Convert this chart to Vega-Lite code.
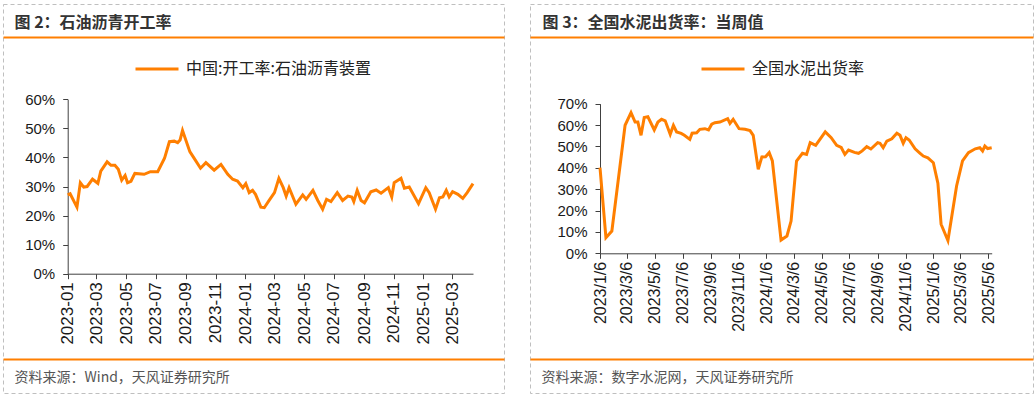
{
  "$schema": "https://vega.github.io/schema/vega-lite/v6.json",
  "padding": {"left": 2, "top": 3, "right": 4, "bottom": 2},
  "background": "white",
  "datasets": {
    "a": [
      {"date": "2023-01-01", "v": 0.271}, {"date": "2023-01-06", "v": 0.275}, {"date": "2023-01-20", "v": 0.229}, {"date": "2023-01-27", "v": 0.313},
      {"date": "2023-02-03", "v": 0.298}, {"date": "2023-02-10", "v": 0.300}, {"date": "2023-02-21", "v": 0.325}, {"date": "2023-03-04", "v": 0.311},
      {"date": "2023-03-10", "v": 0.353}, {"date": "2023-03-23", "v": 0.385}, {"date": "2023-03-31", "v": 0.373}, {"date": "2023-04-08", "v": 0.373},
      {"date": "2023-04-15", "v": 0.359}, {"date": "2023-04-22", "v": 0.322}, {"date": "2023-04-29", "v": 0.338}, {"date": "2023-05-04", "v": 0.313},
      {"date": "2023-05-11", "v": 0.318}, {"date": "2023-05-19", "v": 0.345}, {"date": "2023-06-07", "v": 0.342}, {"date": "2023-06-20", "v": 0.351},
      {"date": "2023-07-05", "v": 0.351}, {"date": "2023-07-19", "v": 0.397}, {"date": "2023-07-29", "v": 0.454}, {"date": "2023-08-08", "v": 0.456},
      {"date": "2023-08-15", "v": 0.451}, {"date": "2023-08-20", "v": 0.460}, {"date": "2023-08-25", "v": 0.493}, {"date": "2023-09-09", "v": 0.420},
      {"date": "2023-09-18", "v": 0.397}, {"date": "2023-10-01", "v": 0.363}, {"date": "2023-10-12", "v": 0.382}, {"date": "2023-10-29", "v": 0.356},
      {"date": "2023-11-12", "v": 0.376}, {"date": "2023-11-26", "v": 0.342}, {"date": "2023-12-06", "v": 0.325}, {"date": "2023-12-16", "v": 0.319},
      {"date": "2023-12-27", "v": 0.296}, {"date": "2024-01-02", "v": 0.310}, {"date": "2024-01-09", "v": 0.279}, {"date": "2024-01-16", "v": 0.287},
      {"date": "2024-01-22", "v": 0.273}, {"date": "2024-02-02", "v": 0.229}, {"date": "2024-02-09", "v": 0.227}, {"date": "2024-02-19", "v": 0.252},
      {"date": "2024-03-01", "v": 0.279}, {"date": "2024-03-10", "v": 0.328}, {"date": "2024-03-19", "v": 0.296}, {"date": "2024-03-25", "v": 0.267},
      {"date": "2024-03-31", "v": 0.296}, {"date": "2024-04-14", "v": 0.239}, {"date": "2024-04-28", "v": 0.271}, {"date": "2024-05-05", "v": 0.256},
      {"date": "2024-05-19", "v": 0.287}, {"date": "2024-05-29", "v": 0.252}, {"date": "2024-06-08", "v": 0.222}, {"date": "2024-06-16", "v": 0.256},
      {"date": "2024-06-25", "v": 0.248}, {"date": "2024-07-08", "v": 0.279}, {"date": "2024-07-19", "v": 0.252}, {"date": "2024-07-30", "v": 0.267},
      {"date": "2024-08-07", "v": 0.264}, {"date": "2024-08-11", "v": 0.248}, {"date": "2024-08-18", "v": 0.287}, {"date": "2024-08-26", "v": 0.252},
      {"date": "2024-09-02", "v": 0.244}, {"date": "2024-09-15", "v": 0.282}, {"date": "2024-09-26", "v": 0.288}, {"date": "2024-10-06", "v": 0.277},
      {"date": "2024-10-21", "v": 0.296}, {"date": "2024-10-28", "v": 0.264}, {"date": "2024-11-02", "v": 0.313}, {"date": "2024-11-16", "v": 0.328},
      {"date": "2024-11-23", "v": 0.294}, {"date": "2024-12-03", "v": 0.298}, {"date": "2024-12-22", "v": 0.241}, {"date": "2025-01-06", "v": 0.296},
      {"date": "2025-01-13", "v": 0.279}, {"date": "2025-01-26", "v": 0.222}, {"date": "2025-02-03", "v": 0.261}, {"date": "2025-02-10", "v": 0.264},
      {"date": "2025-02-17", "v": 0.287}, {"date": "2025-02-23", "v": 0.264}, {"date": "2025-03-02", "v": 0.282}, {"date": "2025-03-13", "v": 0.273},
      {"date": "2025-03-23", "v": 0.259}, {"date": "2025-04-01", "v": 0.279}, {"date": "2025-04-13", "v": 0.310}
    ],
    "b": [
      {"date": "2023-01-06", "v": 0.401}, {"date": "2023-01-19", "v": 0.073}, {"date": "2023-02-01", "v": 0.104}, {"date": "2023-03-02", "v": 0.599},
      {"date": "2023-03-15", "v": 0.658}, {"date": "2023-03-24", "v": 0.614}, {"date": "2023-03-30", "v": 0.614}, {"date": "2023-04-06", "v": 0.552},
      {"date": "2023-04-13", "v": 0.635}, {"date": "2023-04-21", "v": 0.639}, {"date": "2023-05-05", "v": 0.577}, {"date": "2023-05-13", "v": 0.614},
      {"date": "2023-05-21", "v": 0.627}, {"date": "2023-05-29", "v": 0.620}, {"date": "2023-06-09", "v": 0.557}, {"date": "2023-06-16", "v": 0.599},
      {"date": "2023-06-23", "v": 0.568}, {"date": "2023-07-03", "v": 0.561}, {"date": "2023-07-10", "v": 0.552}, {"date": "2023-07-22", "v": 0.533},
      {"date": "2023-07-27", "v": 0.562}, {"date": "2023-08-06", "v": 0.564}, {"date": "2023-08-13", "v": 0.580}, {"date": "2023-08-24", "v": 0.583},
      {"date": "2023-09-01", "v": 0.577}, {"date": "2023-09-08", "v": 0.604}, {"date": "2023-09-15", "v": 0.611}, {"date": "2023-09-26", "v": 0.614},
      {"date": "2023-10-13", "v": 0.630}, {"date": "2023-10-18", "v": 0.608}, {"date": "2023-10-25", "v": 0.627}, {"date": "2023-11-07", "v": 0.583},
      {"date": "2023-11-20", "v": 0.580}, {"date": "2023-12-01", "v": 0.574}, {"date": "2023-12-08", "v": 0.552}, {"date": "2023-12-19", "v": 0.393},
      {"date": "2023-12-27", "v": 0.451}, {"date": "2024-01-04", "v": 0.452}, {"date": "2024-01-12", "v": 0.471}, {"date": "2024-01-19", "v": 0.432},
      {"date": "2024-02-07", "v": 0.062}, {"date": "2024-02-20", "v": 0.081}, {"date": "2024-02-29", "v": 0.151}, {"date": "2024-03-12", "v": 0.432},
      {"date": "2024-03-25", "v": 0.468}, {"date": "2024-04-03", "v": 0.463}, {"date": "2024-04-11", "v": 0.518}, {"date": "2024-04-23", "v": 0.505},
      {"date": "2024-05-14", "v": 0.568}, {"date": "2024-05-27", "v": 0.541}, {"date": "2024-06-08", "v": 0.505}, {"date": "2024-06-18", "v": 0.495},
      {"date": "2024-06-26", "v": 0.463}, {"date": "2024-07-04", "v": 0.483}, {"date": "2024-07-17", "v": 0.472}, {"date": "2024-07-26", "v": 0.468},
      {"date": "2024-08-03", "v": 0.479}, {"date": "2024-08-13", "v": 0.499}, {"date": "2024-08-22", "v": 0.488}, {"date": "2024-09-06", "v": 0.518},
      {"date": "2024-09-11", "v": 0.515}, {"date": "2024-09-18", "v": 0.494}, {"date": "2024-09-26", "v": 0.525}, {"date": "2024-10-07", "v": 0.536},
      {"date": "2024-10-18", "v": 0.562}, {"date": "2024-10-25", "v": 0.552}, {"date": "2024-11-01", "v": 0.515}, {"date": "2024-11-07", "v": 0.541},
      {"date": "2024-11-14", "v": 0.530}, {"date": "2024-11-27", "v": 0.489}, {"date": "2024-12-08", "v": 0.468}, {"date": "2024-12-15", "v": 0.455},
      {"date": "2024-12-25", "v": 0.447}, {"date": "2025-01-06", "v": 0.424}, {"date": "2025-01-16", "v": 0.328}, {"date": "2025-01-23", "v": 0.136},
      {"date": "2025-02-07", "v": 0.060}, {"date": "2025-02-26", "v": 0.315}, {"date": "2025-03-11", "v": 0.432}, {"date": "2025-03-24", "v": 0.471},
      {"date": "2025-04-08", "v": 0.489}, {"date": "2025-04-18", "v": 0.494}, {"date": "2025-04-24", "v": 0.479}, {"date": "2025-04-29", "v": 0.502},
      {"date": "2025-05-05", "v": 0.490}, {"date": "2025-05-14", "v": 0.494}
    ]
  },
  "spacing": 24,
  "resolve": {"scale": {"color": "independent"}, "legend": {"color": "independent"}},
  "hconcat": [
    {
      "width": 501,
      "height": 389,
      "resolve": {"scale": {"x": "independent"}, "axis": {"x": "independent"}},
      "layer": [
        {
          "data": {"name": "a"},
          "mark": {"type": "line", "strokeWidth": 3},
          "encoding": {
            "x": {
              "field": "date", "type": "temporal",
              "scale": {"type": "utc", "range": [64.7, 470]},
              "axis": {
                "orient": "bottom", "offset": -119.3, "title": null,
                "values": [
                  {"year": 2023, "month": 1, "date": 1, "utc": true}, {"year": 2023, "month": 3, "date": 1, "utc": true},
                  {"year": 2023, "month": 5, "date": 1, "utc": true}, {"year": 2023, "month": 7, "date": 1, "utc": true},
                  {"year": 2023, "month": 9, "date": 1, "utc": true}, {"year": 2023, "month": 11, "date": 1, "utc": true},
                  {"year": 2024, "month": 1, "date": 1, "utc": true}, {"year": 2024, "month": 3, "date": 1, "utc": true},
                  {"year": 2024, "month": 5, "date": 1, "utc": true}, {"year": 2024, "month": 7, "date": 1, "utc": true},
                  {"year": 2024, "month": 9, "date": 1, "utc": true}, {"year": 2024, "month": 11, "date": 1, "utc": true},
                  {"year": 2025, "month": 1, "date": 1, "utc": true}, {"year": 2025, "month": 3, "date": 1, "utc": true}
                ],
                "labelExpr": "utcFormat(datum.value, '%Y-%m')",
                "labelAngle": -90, "labelPadding": 3, "tickSize": 5, "labelFontSize": 17
              }
            },
            "y": {
              "field": "v", "type": "quantitative",
              "scale": {"domain": [0, 0.6], "range": [269.7, 95.3], "nice": false},
              "axis": {"orient": "left", "offset": -64.7, "title": null, "values": [0, 0.1, 0.2, 0.3, 0.4, 0.5, 0.6], "format": ".0%", "tickSize": 5, "labelPadding": 8}
            },
            "color": {
              "datum": "中国:开工率:石油沥青装置",
              "scale": {"range": ["#FF7F00"]},
              "legend": {"orient": "none", "legendX": 131, "legendY": 42, "direction": "horizontal", "title": null}
            }
          }
        },
        {
          "data": {"name": "a"},
          "mark": {"type": "point", "opacity": 0, "size": 0, "strokeWidth": 0},
          "encoding": {
            "x": {
              "field": "date", "type": "temporal",
              "axis": {
                "orient": "top", "offset": -33, "domainColor": "#FF7F00", "domainWidth": 2, "ticks": false, "labels": false,
                "title": "图 2：石油沥青开工率", "titleX": 11, "titleY": -15, "titleAlign": "left", "titleBaseline": "middle",
                "titleFontSize": 16, "titleFontWeight": "bold", "titleColor": "#333333", "titleFont": "Noto Sans CJK SC"
              }
            }
          }
        },
        {
          "data": {"name": "a"},
          "mark": {"type": "point", "opacity": 0, "size": 0, "strokeWidth": 0},
          "encoding": {
            "x": {
              "field": "date", "type": "temporal",
              "axis": {
                "orient": "bottom", "offset": -34, "domainColor": "#FF7F00", "domainWidth": 2, "ticks": false, "labels": false,
                "title": "资料来源：Wind，天风证券研究所", "titleX": 11, "titleY": 18, "titleAlign": "left", "titleBaseline": "middle",
                "titleFontSize": 14, "titleFontWeight": "normal", "titleColor": "#555555", "titleFont": "Noto Sans CJK SC"
              }
            }
          }
        }
      ]
    },
    {
      "width": 503,
      "height": 389,
      "resolve": {"scale": {"x": "independent"}, "axis": {"x": "independent"}},
      "layer": [
        {
          "data": {"name": "b"},
          "mark": {"type": "line", "strokeWidth": 3},
          "encoding": {
            "x": {
              "field": "date", "type": "temporal",
              "scale": {"type": "utc", "range": [70, 461.7]},
              "axis": {
                "orient": "bottom", "offset": -139.7, "title": null,
                "values": [
                  {"year": 2023, "month": 1, "date": 6, "utc": true}, {"year": 2023, "month": 3, "date": 6, "utc": true},
                  {"year": 2023, "month": 5, "date": 6, "utc": true}, {"year": 2023, "month": 7, "date": 6, "utc": true},
                  {"year": 2023, "month": 9, "date": 6, "utc": true}, {"year": 2023, "month": 11, "date": 6, "utc": true},
                  {"year": 2024, "month": 1, "date": 6, "utc": true}, {"year": 2024, "month": 3, "date": 6, "utc": true},
                  {"year": 2024, "month": 5, "date": 6, "utc": true}, {"year": 2024, "month": 7, "date": 6, "utc": true},
                  {"year": 2024, "month": 9, "date": 6, "utc": true}, {"year": 2024, "month": 11, "date": 6, "utc": true},
                  {"year": 2025, "month": 1, "date": 6, "utc": true}, {"year": 2025, "month": 3, "date": 6, "utc": true},
                  {"year": 2025, "month": 5, "date": 6, "utc": true}
                ],
                "labelExpr": "utcFormat(datum.value, '%Y/%-m/%-d')",
                "labelAngle": -90, "labelPadding": 3, "tickSize": 5, "labelFontSize": 16
              }
            },
            "y": {
              "field": "v", "type": "quantitative",
              "scale": {"domain": [0, 0.7], "range": [249.3, 99.7], "nice": false},
              "axis": {"orient": "left", "offset": -70, "title": null, "values": [0, 0.1, 0.2, 0.3, 0.4, 0.5, 0.6, 0.7], "format": ".0%", "tickSize": 5, "labelPadding": 8}
            },
            "color": {
              "datum": "全国水泥出货率",
              "scale": {"range": ["#FF7F00"]},
              "legend": {"orient": "none", "legendX": 170, "legendY": 42, "direction": "horizontal", "title": null}
            }
          }
        },
        {
          "data": {"name": "b"},
          "mark": {"type": "point", "opacity": 0, "size": 0, "strokeWidth": 0},
          "encoding": {
            "x": {
              "field": "date", "type": "temporal",
              "axis": {
                "orient": "top", "offset": -33, "domainColor": "#FF7F00", "domainWidth": 2, "ticks": false, "labels": false,
                "title": "图 3：全国水泥出货率：当周值", "titleX": 12, "titleY": -15, "titleAlign": "left", "titleBaseline": "middle",
                "titleFontSize": 16, "titleFontWeight": "bold", "titleColor": "#333333", "titleFont": "Noto Sans CJK SC"
              }
            }
          }
        },
        {
          "data": {"name": "b"},
          "mark": {"type": "point", "opacity": 0, "size": 0, "strokeWidth": 0},
          "encoding": {
            "x": {
              "field": "date", "type": "temporal",
              "axis": {
                "orient": "bottom", "offset": -34, "domainColor": "#FF7F00", "domainWidth": 2, "ticks": false, "labels": false,
                "title": "资料来源：数字水泥网，天风证券研究所", "titleX": 11, "titleY": 18, "titleAlign": "left", "titleBaseline": "middle",
                "titleFontSize": 14, "titleFontWeight": "normal", "titleColor": "#555555", "titleFont": "Noto Sans CJK SC"
              }
            }
          }
        }
      ]
    }
  ],
  "config": {
    "font": "Liberation Sans, Noto Sans CJK SC, sans-serif",
    "view": {"stroke": "#BFBFBF", "strokeDash": [4, 3], "strokeWidth": 1},
    "axis": {
      "grid": false, "domainColor": "#404040", "tickColor": "#404040", "labelColor": "#1a1a1a",
      "labelFontSize": 15, "labelFont": "Liberation Sans", "labelOverlap": false, "labelFlush": false
    },
    "legend": {
      "symbolType": "stroke", "symbolSize": 1849, "symbolStrokeWidth": 3, "labelFontSize": 16,
      "labelFont": "Noto Sans CJK SC", "labelColor": "#222222", "labelOffset": 6, "labelLimit": 400
    }
  }
}
